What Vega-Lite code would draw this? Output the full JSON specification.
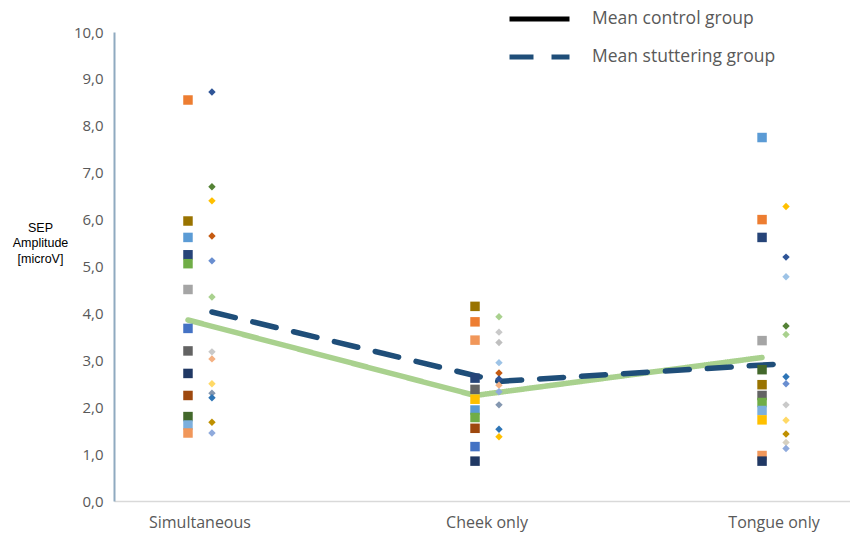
{
  "$schema": "https://vega.github.io/schema/vega-lite/v6.json",
  "width": 736,
  "height": 469,
  "autosize": {"type": "none"},
  "padding": {"left": 114, "top": 32, "right": 0, "bottom": 46},
  "background": "white",
  "config": {"view": {"stroke": null}, "font": "Open Sans"},
  "datasets": {
    "means": [
      {"condition": "Simultaneous", "group": "control", "series": "Mean control group", "value": 3.86},
      {"condition": "Cheek only", "group": "control", "series": "Mean control group", "value": 2.25},
      {"condition": "Tongue only", "group": "control", "series": "Mean control group", "value": 3.06},
      {"condition": "Simultaneous", "group": "stuttering", "series": "Mean stuttering group", "value": 4.03},
      {"condition": "Cheek only", "group": "stuttering", "series": "Mean stuttering group", "value": 2.55},
      {"condition": "Tongue only", "group": "stuttering", "series": "Mean stuttering group", "value": 2.93}
    ],
    "points": [
      {"condition": "Simultaneous", "group": "control", "subject": "c01", "value": 8.55},
      {"condition": "Simultaneous", "group": "control", "subject": "c02", "value": 5.97},
      {"condition": "Simultaneous", "group": "control", "subject": "c03", "value": 5.62},
      {"condition": "Simultaneous", "group": "control", "subject": "c04", "value": 5.25},
      {"condition": "Simultaneous", "group": "control", "subject": "c05", "value": 5.06},
      {"condition": "Simultaneous", "group": "control", "subject": "c06", "value": 4.51},
      {"condition": "Simultaneous", "group": "control", "subject": "c07", "value": 3.68},
      {"condition": "Simultaneous", "group": "control", "subject": "c08", "value": 3.2},
      {"condition": "Simultaneous", "group": "control", "subject": "c09", "value": 2.72},
      {"condition": "Simultaneous", "group": "control", "subject": "c10", "value": 2.25},
      {"condition": "Simultaneous", "group": "control", "subject": "c11", "value": 1.8},
      {"condition": "Simultaneous", "group": "control", "subject": "c12", "value": 1.62},
      {"condition": "Simultaneous", "group": "control", "subject": "c13", "value": 1.45},
      {"condition": "Cheek only", "group": "control", "subject": "c02", "value": 4.15},
      {"condition": "Cheek only", "group": "control", "subject": "c01", "value": 3.82},
      {"condition": "Cheek only", "group": "control", "subject": "c13", "value": 3.43},
      {"condition": "Cheek only", "group": "control", "subject": "c04", "value": 2.62},
      {"condition": "Cheek only", "group": "control", "subject": "c08", "value": 2.38},
      {"condition": "Cheek only", "group": "control", "subject": "c14", "value": 2.17},
      {"condition": "Cheek only", "group": "control", "subject": "c03", "value": 1.94},
      {"condition": "Cheek only", "group": "control", "subject": "c05", "value": 1.78},
      {"condition": "Cheek only", "group": "control", "subject": "c10", "value": 1.55},
      {"condition": "Cheek only", "group": "control", "subject": "c07", "value": 1.16},
      {"condition": "Cheek only", "group": "control", "subject": "c09", "value": 0.85},
      {"condition": "Tongue only", "group": "control", "subject": "c03", "value": 7.75},
      {"condition": "Tongue only", "group": "control", "subject": "c01", "value": 6.0},
      {"condition": "Tongue only", "group": "control", "subject": "c04", "value": 5.62},
      {"condition": "Tongue only", "group": "control", "subject": "c06", "value": 3.42},
      {"condition": "Tongue only", "group": "control", "subject": "c11", "value": 2.8},
      {"condition": "Tongue only", "group": "control", "subject": "c02", "value": 2.48},
      {"condition": "Tongue only", "group": "control", "subject": "c08", "value": 2.25},
      {"condition": "Tongue only", "group": "control", "subject": "c05", "value": 2.1},
      {"condition": "Tongue only", "group": "control", "subject": "c12", "value": 1.93},
      {"condition": "Tongue only", "group": "control", "subject": "c14", "value": 1.73},
      {"condition": "Tongue only", "group": "control", "subject": "c13", "value": 0.97},
      {"condition": "Tongue only", "group": "control", "subject": "c09", "value": 0.85},
      {"condition": "Simultaneous", "group": "stuttering", "subject": "s01", "value": 8.72},
      {"condition": "Simultaneous", "group": "stuttering", "subject": "s02", "value": 6.7},
      {"condition": "Simultaneous", "group": "stuttering", "subject": "s03", "value": 6.4},
      {"condition": "Simultaneous", "group": "stuttering", "subject": "s04", "value": 5.65},
      {"condition": "Simultaneous", "group": "stuttering", "subject": "s05", "value": 5.12},
      {"condition": "Simultaneous", "group": "stuttering", "subject": "s06", "value": 4.35},
      {"condition": "Simultaneous", "group": "stuttering", "subject": "s07", "value": 3.18},
      {"condition": "Simultaneous", "group": "stuttering", "subject": "s08", "value": 3.03},
      {"condition": "Simultaneous", "group": "stuttering", "subject": "s09", "value": 2.5},
      {"condition": "Simultaneous", "group": "stuttering", "subject": "s10", "value": 2.3},
      {"condition": "Simultaneous", "group": "stuttering", "subject": "s11", "value": 2.2},
      {"condition": "Simultaneous", "group": "stuttering", "subject": "s12", "value": 1.68},
      {"condition": "Simultaneous", "group": "stuttering", "subject": "s13", "value": 1.45},
      {"condition": "Cheek only", "group": "stuttering", "subject": "s06", "value": 3.93},
      {"condition": "Cheek only", "group": "stuttering", "subject": "s07", "value": 3.6},
      {"condition": "Cheek only", "group": "stuttering", "subject": "s15", "value": 3.38},
      {"condition": "Cheek only", "group": "stuttering", "subject": "s14", "value": 2.95},
      {"condition": "Cheek only", "group": "stuttering", "subject": "s04", "value": 2.73},
      {"condition": "Cheek only", "group": "stuttering", "subject": "s01", "value": 2.6},
      {"condition": "Cheek only", "group": "stuttering", "subject": "s08", "value": 2.47},
      {"condition": "Cheek only", "group": "stuttering", "subject": "s13", "value": 2.33},
      {"condition": "Cheek only", "group": "stuttering", "subject": "s10", "value": 2.05},
      {"condition": "Cheek only", "group": "stuttering", "subject": "s11", "value": 1.53},
      {"condition": "Cheek only", "group": "stuttering", "subject": "s03", "value": 1.37},
      {"condition": "Tongue only", "group": "stuttering", "subject": "s03", "value": 6.28},
      {"condition": "Tongue only", "group": "stuttering", "subject": "s01", "value": 5.2},
      {"condition": "Tongue only", "group": "stuttering", "subject": "s14", "value": 4.78},
      {"condition": "Tongue only", "group": "stuttering", "subject": "s02", "value": 3.73},
      {"condition": "Tongue only", "group": "stuttering", "subject": "s06", "value": 3.55},
      {"condition": "Tongue only", "group": "stuttering", "subject": "s11", "value": 2.65},
      {"condition": "Tongue only", "group": "stuttering", "subject": "s05", "value": 2.5},
      {"condition": "Tongue only", "group": "stuttering", "subject": "s07", "value": 2.05},
      {"condition": "Tongue only", "group": "stuttering", "subject": "s09", "value": 1.72},
      {"condition": "Tongue only", "group": "stuttering", "subject": "s12", "value": 1.43},
      {"condition": "Tongue only", "group": "stuttering", "subject": "s16", "value": 1.25},
      {"condition": "Tongue only", "group": "stuttering", "subject": "s13", "value": 1.12}
    ]
  },
  "encoding": {
    "x": {
      "field": "condition",
      "type": "nominal",
      "sort": ["Simultaneous", "Cheek only", "Tongue only"],
      "scale": {
        "domain": ["Simultaneous", "Cheek only", "Tongue only"],
        "range": [0, 746],
        "paddingInner": 0.833,
        "paddingOuter": 0.216
      },
      "axis": {
        "title": null,
        "labelAngle": 0,
        "ticks": false,
        "domainColor": "#D9D9D9",
        "domainWidth": 1.5,
        "labelFontSize": 16,
        "labelColor": "#595959",
        "labelPadding": 13
      }
    },
    "xOffset": {
      "field": "group",
      "type": "nominal",
      "scale": {"domain": ["control", "stuttering"], "paddingInner": 0, "paddingOuter": 0.5}
    },
    "y": {
      "field": "value",
      "type": "quantitative",
      "scale": {"domain": [0, 10]},
      "axis": {
        "title": ["SEP", "Amplitude", "[microV]"],
        "titleAngle": 0,
        "titleAlign": "center",
        "titleBaseline": "top",
        "titleX": -74,
        "titleY": 189,
        "titleFont": "Liberation Sans",
        "titleFontSize": 12.5,
        "titleFontWeight": "normal",
        "titleColor": "black",
        "titleLineHeight": 15.5,
        "values": [0, 1, 2, 3, 4, 5, 6, 7, 8, 9, 10],
        "labelExpr": "replace(format(datum.value, '.1f'), '.', ',')",
        "labelFontSize": 15,
        "labelColor": "#595959",
        "labelPadding": 11,
        "ticks": false,
        "grid": false,
        "domainColor": "#8FAAC0",
        "domainWidth": 2
      }
    }
  },
  "layer": [
    {
      "data": {"name": "means"},
      "mark": {"type": "line", "strokeWidth": 5.5, "strokeCap": "round"},
      "encoding": {
        "stroke": {
          "field": "group",
          "type": "nominal",
          "scale": {"domain": ["control", "stuttering"], "range": ["#A9D18E", "#1F4E79"]},
          "legend": null
        },
        "strokeDash": {
          "field": "series",
          "type": "nominal",
          "scale": {"domain": ["Mean control group", "Mean stuttering group"], "range": [[1, 0], [24, 18]]},
          "legend": {
            "title": null,
            "orient": "none",
            "legendX": 393,
            "legendY": -25,
            "symbolType": "stroke",
            "symbolSize": 3600,
            "symbolStrokeWidth": 5,
            "symbolStrokeColor": "#1F4E79",
            "labelFontSize": 17.5,
            "labelColor": "#595959",
            "labelOffset": 20,
            "labelLimit": 300,
            "clipHeight": 24,
            "rowPadding": 14,
            "encode": {
              "symbols": {
                "update": {
                  "stroke": {"signal": "datum.value === 'Mean control group' ? 'black' : '#1F4E79'"}
                }
              }
            }
          }
        }
      }
    },
    {
      "data": {"name": "points"},
      "transform": [{"filter": "datum.group == 'control'"}],
      "mark": {"type": "square", "size": 90, "opacity": 1},
      "encoding": {
        "color": {
          "field": "subject",
          "type": "nominal",
          "scale": {
            "domain": ["c01", "c02", "c03", "c04", "c05", "c06", "c07", "c08", "c09", "c10", "c11", "c12", "c13", "c14"],
            "range": ["#ED7D31", "#997300", "#5B9BD5", "#264478", "#70AD47", "#A5A5A5", "#4472C4", "#636363", "#203864", "#9E480E", "#43682B", "#7CAFDD", "#F1975A", "#FFC000"]
          },
          "legend": null
        }
      }
    },
    {
      "data": {"name": "points"},
      "transform": [{"filter": "datum.group == 'stuttering'"}],
      "mark": {"type": "point", "shape": "diamond", "filled": true, "size": 55, "opacity": 1},
      "encoding": {
        "fill": {
          "field": "subject",
          "type": "nominal",
          "scale": {
            "domain": ["s01", "s02", "s03", "s04", "s05", "s06", "s07", "s08", "s09", "s10", "s11", "s12", "s13", "s14", "s15", "s16"],
            "range": ["#2F5597", "#548235", "#FFC000", "#C55A11", "#698ED0", "#A9D18E", "#C9C9C9", "#F4B183", "#FFD966", "#8497B0", "#2E75B6", "#BF9000", "#8FAADC", "#9DC3E6", "#BFBFBF", "#D6D0C0"]
          },
          "legend": null
        }
      }
    }
  ]
}
